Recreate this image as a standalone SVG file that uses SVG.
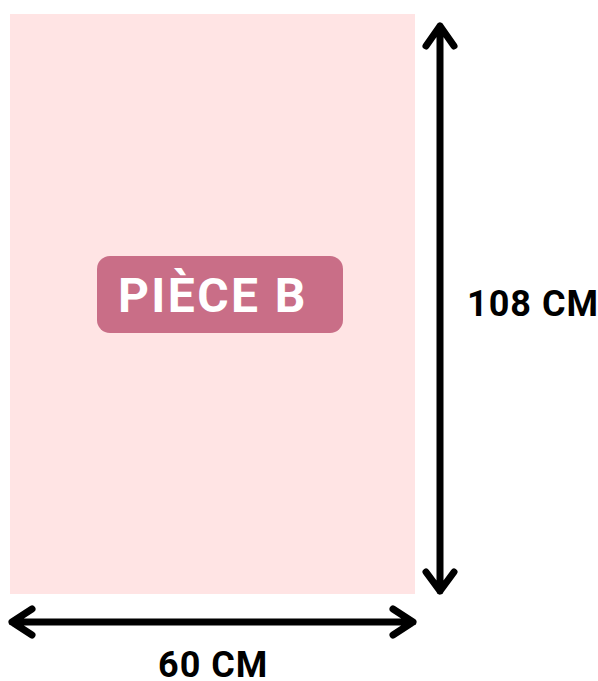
<svg xmlns="http://www.w3.org/2000/svg" width="598" height="681" viewBox="0 0 598 681">
<style>
.dim{font-family:Roboto,"Liberation Sans",sans-serif;font-weight:700;font-size:36px;letter-spacing:1px;fill:#000}
.arr{stroke:#000;stroke-width:7;stroke-linecap:round;stroke-linejoin:round;fill:none}
</style>
<rect width="598" height="681" fill="#fff"/>
<g id="piece">
<rect x="10" y="14" width="405" height="580" fill="#FFE4E4"/>
</g>
<g id="label">
<rect x="97" y="256" width="246" height="77" rx="13" fill="#C96E87"/>
<text x="118" y="312" font-family="Roboto,'Liberation Sans',sans-serif" font-weight="700" font-size="48" letter-spacing="2.4" fill="#fff">PIÈCE B</text>
</g>
<g id="connectors">
<path class="arr" d="M440 26V591M426 46L440 26L454 46M426 572L440 591L454 572"/>
<path class="arr" d="M12 622H413M32 609L12 622L32 635M393 609L413 622L393 635"/>
</g>
<g id="dims">
<text class="dim" x="467" y="316">108 CM</text>
<text class="dim" x="158" y="677">60 CM</text>
</g>
</svg>
